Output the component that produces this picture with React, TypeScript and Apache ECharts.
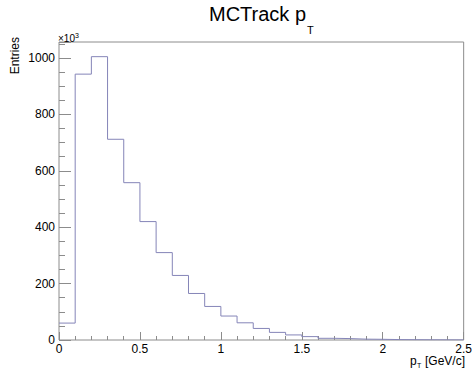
import React, { useEffect, useRef } from "react";
import * as echarts from "echarts";

// bin lower edges (GeV/c), bin width 0.1
const binEdges: number[] = [0, 0.1, 0.2, 0.3, 0.4, 0.5, 0.6, 0.7, 0.8, 0.9, 1.0, 1.1, 1.2, 1.3, 1.4, 1.5, 1.6, 1.7, 1.8, 1.9, 2.0, 2.1, 2.2, 2.3, 2.4, 2.5];
// entries per bin, in units of 10^3
const entries: number[] = [60, 943, 1005, 712, 558, 420, 310, 229, 165, 119, 85, 61, 41, 27, 18, 12, 6, 5, 3, 2.5, 1.5, 1, 0.7, 0.5, 0.3];
const xTicks: number[] = [0, 0.5, 1, 1.5, 2, 2.5];
const yTicks: number[] = [0, 200, 400, 600, 800, 1000];

const FONT = "Liberation Sans";
const AXIS = "#8c8c8c";
const LINE = "#8585b8";

export default function App() {
  const ref = useRef<HTMLDivElement>(null);
  useEffect(() => {
    if (!ref.current) return;
    const chart = echarts.init(ref.current, null, { renderer: "svg" });
    const stepData: [number, number][] = entries.map((v, i) => [binEdges[i], v]);
    stepData.push([binEdges[binEdges.length - 1], entries[entries.length - 1]]);
    const yMax = 1057;
    chart.setOption({
      animation: false,
      grid: { left: 59, right: 11, top: 42, bottom: 28, show: true, borderColor: AXIS, borderWidth: 1, backgroundColor: "transparent" },
      xAxis: {
        type: "value",
        min: xTicks[0],
        max: xTicks[xTicks.length - 1],
        interval: 0.5,
        axisLine: { show: false },
        axisTick: { show: true, inside: true, length: 8, lineStyle: { color: AXIS } },
        minorTick: { show: true, splitNumber: 5, length: 4, lineStyle: { color: AXIS } },
        splitLine: { show: false },
        axisLabel: { color: "#000", fontFamily: FONT, fontSize: 12, margin: 3, formatter: (v: number) => String(v) },
      },
      yAxis: [
        {
          type: "value",
          min: 0,
          max: yMax,
          interval: 200,
          position: "left",
          axisLine: { show: false },
          axisTick: { show: true, inside: true, length: 12, lineStyle: { color: AXIS } },
          splitLine: { show: false },
          axisLabel: {
            color: "#000",
            fontFamily: FONT,
            fontSize: 12,
            margin: 4,
            formatter: (v: number) => (yTicks.indexOf(v) >= 0 ? String(v) : ""),
          },
        },
        {
          type: "value",
          min: 0,
          max: yMax,
          interval: 50,
          position: "left",
          axisLine: { show: false },
          axisTick: { show: true, inside: true, length: 6, lineStyle: { color: AXIS } },
          splitLine: { show: false },
          axisLabel: { show: false },
        },
      ],
      series: [
        {
          type: "line",
          step: "end",
          data: stepData,
          showSymbol: false,
          symbol: "none",
          lineStyle: { color: LINE, width: 1 },
          yAxisIndex: 0,
        },
      ],
      graphic: [
        { type: "text", x: 209, y: 24, style: { text: "MCTrack p", font: `20px '${FONT}'`, fill: "#000", verticalAlign: "bottom" } },
        { type: "text", x: 307, y: 35, style: { text: "T", font: `11px '${FONT}'`, fill: "#000", verticalAlign: "bottom" } },
        { type: "text", x: 58, y: 43, style: { text: "×10", font: `10px '${FONT}'`, fill: "#000", verticalAlign: "bottom" } },
        { type: "text", x: 75, y: 39, style: { text: "3", font: `7px '${FONT}'`, fill: "#000", verticalAlign: "bottom" } },
        { type: "text", x: 15, y: 37, rotation: Math.PI / 2, style: { text: "Entries", font: `12px '${FONT}'`, fill: "#000", align: "right", verticalAlign: "middle" } },
        { type: "text", x: 410, y: 367, style: { text: "p", font: `12px '${FONT}'`, fill: "#000", verticalAlign: "bottom" } },
        { type: "text", x: 417, y: 369, style: { text: "T", font: `7px '${FONT}'`, fill: "#000", verticalAlign: "bottom" } },
        { type: "text", x: 465, y: 367, style: { text: "[GeV/c]", font: `12px '${FONT}'`, fill: "#000", align: "right", verticalAlign: "bottom" } },
      ],
    });
    return () => chart.dispose();
  }, []);
  return <div ref={ref} style={{ position: "absolute", left: 0, top: 0, width: 475, height: 368, background: "#fff" }} />;
}
